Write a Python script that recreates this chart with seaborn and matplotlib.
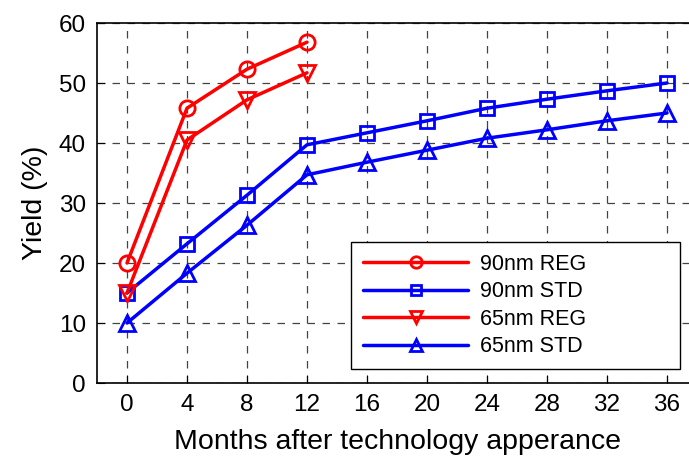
import seaborn as sns
import matplotlib.pyplot as plt
import pandas as pd

# months after technology appearance
months_reg = [0, 4, 8, 12]
months_std = [0, 4, 8, 12, 16, 20, 24, 28, 32, 36]

# yield (%)
reg90 = [20.0, 45.8, 52.3, 56.8]
std90 = [15.0, 23.2, 31.3, 39.7, 41.7, 43.7, 45.8, 47.3, 48.7, 50.0]
reg65 = [15.0, 40.5, 47.2, 51.7]
std65 = [10.0, 18.3, 26.3, 34.7, 36.8, 38.8, 40.8, 42.2, 43.7, 45.0]

labels = ['90nm REG', '90nm STD', '65nm REG', '65nm STD']

sns.set_style('ticks')
plt.rcParams['font.family'] = ['Liberation Sans', 'DejaVu Sans']
for k in ['text.color', 'axes.labelcolor', 'xtick.color', 'ytick.color']:
    plt.rcParams[k] = 'black'

fig = plt.figure(figsize=(6.89, 4.59), dpi=100)
ax = fig.add_axes([97 / 689, 76 / 459, 600 / 689, 360 / 459])

series = [
    (months_reg, reg90, 'red', 'o'),
    (months_std, std90, 'blue', 's'),
    (months_reg, reg65, 'red', 'v'),
    (months_std, std65, 'blue', '^'),
]
for (x, y, c, m), lab in zip(series, labels):
    df = pd.DataFrame({'month': x, 'yield': y})
    sns.lineplot(data=df, x='month', y='yield', ax=ax, color=c, marker=m,
                 markersize=11 if m != 's' else 9.5, markerfacecolor='none',
                 markeredgecolor=c, markeredgewidth=2, linewidth=2.5, label=lab)

ax.set_xlim(-2, 38)
ax.set_ylim(0, 60)
ax.set_xticks(months_std)
ax.set_yticks(range(0, 61, 10))
ax.grid(True, color='#444444', linestyle=(0, (6, 6)), linewidth=0.9)
ax.tick_params(direction='in', length=6, labelsize=17.5, pad=8, top=False, right=False)
for s in ax.spines.values():
    s.set_linewidth(1.2)
    s.set_color('black')
ax.set_xlabel('Months after technology apperance', fontsize=20.5, labelpad=9)
ax.set_ylabel('Yield (%)', fontsize=20.5, labelpad=8)

leg = ax.legend(loc='upper left',
                bbox_to_anchor=(254 / 600, 0.05, 329 / 600, (365 - 242) / 360),
                mode='expand', fontsize=15.5, handlelength=4.9, frameon=True,
                fancybox=False, borderpad=0.55, labelspacing=0.3,
                handletextpad=0.55, borderaxespad=0, markerscale=0.75)
leg.get_frame().set_edgecolor('black')
leg.get_frame().set_linewidth(1.0)
leg.get_frame().set_alpha(1)

fig.savefig('out.png', dpi=100)
